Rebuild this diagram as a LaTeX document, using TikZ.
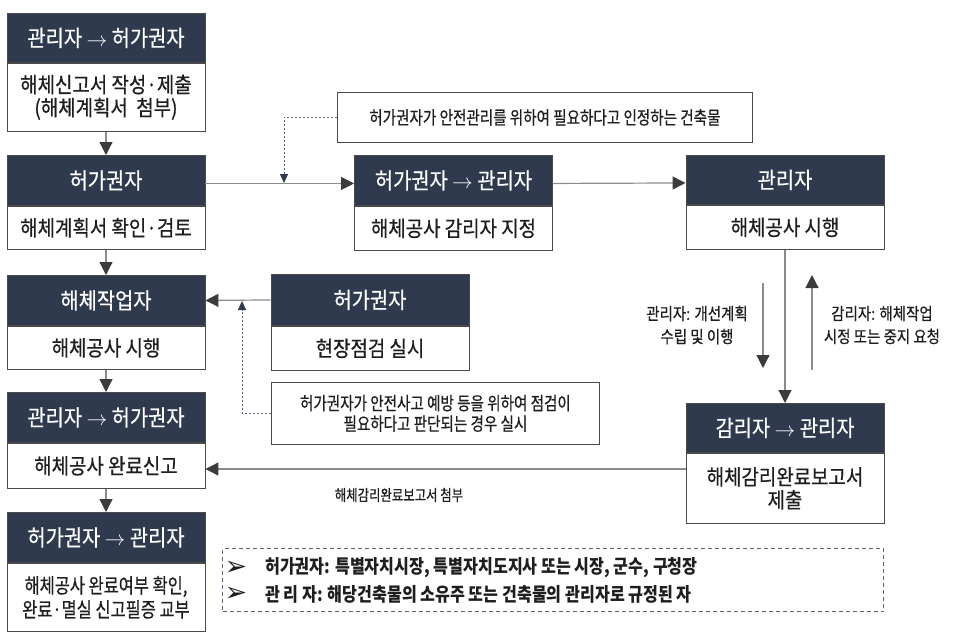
\documentclass[tikz,border=0pt]{standalone}
\usepackage{fontspec}
\setmainfont{Noto Sans CJK KR}
\newfontfamily\krA[FakeStretch=0.88,FakeBold=0.6]{Noto Sans CJK KR}
\newfontfamily\krB[FakeStretch=0.8,FakeBold=0.5]{Noto Sans CJK KR}
\newfontfamily\krC[FakeStretch=0.85,FakeBold=0.5]{Noto Sans CJK KR}
\newfontfamily\krD[FakeStretch=0.85]{Noto Sans CJK KR}
\newfontfamily\dejavu{DejaVu Sans}
\usetikzlibrary{arrows.meta}
\definecolor{navy}{HTML}{2F3A4E}
\definecolor{lgray}{HTML}{8C8C8C}
\definecolor{ahead}{HTML}{3C3C3C}
\definecolor{txt}{HTML}{1E1E1E}
\definecolor{border}{HTML}{4A4A4A}
\definecolor{dotc}{HTML}{5A6578}
\tikzset{
  hdr/.style={draw=border, fill=navy, text=white, minimum width=198pt, inner sep=0pt, anchor=north, line width=0.9pt,
    font=\krA\fontsize{22.5}{24}\selectfont},
  bdy/.style={draw=border, fill=white, text=txt, minimum width=198pt, inner sep=0pt, anchor=north, align=center, line width=0.9pt,
    font=\krA\fontsize{21.5}{23}\selectfont},
  note/.style={draw=border, fill=white, text=txt, inner sep=0pt, align=center, line width=0.9pt,
    font=\krB\fontsize{18.2}{20.5}\selectfont},
  conn/.style={draw=lgray, line width=1.2pt, -{Triangle[length=13pt,width=13pt,color=ahead]}},
  dotline/.style={draw=dotc, line width=1pt, dash pattern=on 2pt off 2pt, -{Triangle[length=9pt,width=8pt,color=navy]}},
  lbl/.style={inner sep=0pt, text=txt, align=center},
}
\begin{document}
\begin{tikzpicture}[x=1pt,y=-1pt]
\useasboundingbox (0,0) rectangle (966,640);
% left column
\node[hdr, minimum height=49pt] (h1) at (106,13) {관리자 $\rightarrow$ 허가권자};
\node[bdy, minimum height=68pt] (b1) at (h1.south) {해체신고서 작성·제출\\(해체계획서\ \ 첨부)};
\node[hdr, minimum height=50pt] (h2) at (106,155) {허가권자};
\node[bdy, minimum height=43pt] (b2) at (h2.south) {해체계획서 확인·검토};
\node[hdr, minimum height=50pt] (h3) at (106,275) {해체작업자};
\node[bdy, minimum height=43pt] (b3) at (h3.south) {해체공사 시행};
\node[hdr, minimum height=50pt] (h4) at (106,392) {관리자 $\rightarrow$ 허가권자};
\node[bdy, minimum height=45pt] (b4) at (h4.south) {해체공사 완료신고};
\node[hdr, minimum height=50pt] (h5) at (106,512) {허가권자 $\rightarrow$ 관리자};
\node[bdy, minimum height=68pt, font=\krB\fontsize{20.5}{24}\selectfont] (b5) at (h5.south) {해체공사 완료여부 확인,\\완료·멸실 신고필증 교부};
% middle
\node[hdr, minimum height=50pt] (hM) at (453.5,155) {허가권자 $\rightarrow$ 관리자};
\node[bdy, minimum height=44pt] (bM) at (hM.south) {해체공사 감리자 지정};
\node[hdr, minimum height=51pt] (hS) at (370,274) {허가권자};
\node[bdy, minimum height=44pt] (bS) at (hS.south) {현장점검 실시};
% right
\node[hdr, minimum height=49pt] (hR) at (785,155) {관리자};
\node[bdy, minimum height=44pt] (bR) at (hR.south) {해체공사 시행};
\node[hdr, minimum height=49pt] (hG) at (785,403) {감리자 $\rightarrow$ 관리자};
\node[bdy, minimum height=70pt] (bG) at (hG.south) {해체감리완료보고서\\제출};
% notes
\node[note, minimum width=415pt, minimum height=50pt, anchor=north west] (n1) at (337,92) {허가권자가 안전관리를 위하여 필요하다고 인정하는 건축물};
\node[note, minimum width=328pt, minimum height=62pt, anchor=north west] (n2) at (271,382) {허가권자가 안전사고 예방 등을 위하여 점검이\\필요하다고 판단되는 경우 실시};
% connectors
\draw[conn] (b1) -- (h2);
\draw[conn] (b2) -- (h3);
\draw[conn] (b3) -- (h4);
\draw[conn] (b4) -- (h5);
\draw[conn] ([yshift=-3pt]h2.east) -- ([yshift=-3pt]hM.west);
\draw[conn] ([yshift=-3pt]hM.east) -- ([yshift=-3pt]hR.west);
\draw[conn] (bR) -- (hG);
\draw[conn] (hS.west) -- (h3.east);
\coordinate (ret) at (0,469);
\draw[conn] (bG.west |- ret) -- (b4.east |- ret);
\coordinate (a1s) at (763,283);
\coordinate (a1e) at (763,368);
\coordinate (a2s) at (812,370);
\coordinate (a2e) at (812,275);
\draw[conn] (a1s) -- (a1e);
\draw[conn] (a2s) -- (a2e);
\coordinate (d1) at (284,183);
\coordinate (d2) at (242,301);
\draw[dotline] (n1.west) -| (d1);
\draw[dotline] (n2.west) -| (d2);
% labels
\node[lbl, font=\krC\fontsize{17}{23}\selectfont] (la) at (697,325) {관리자: 개선계획\\수립 및 이행};
\node[lbl, font=\krC\fontsize{17}{23}\selectfont] (lb) at (882,325) {감리자: 해체작업\\시정 또는 중지 요청};
\node[lbl, font=\krB\fontsize{15.5}{18}\selectfont] (lc) at (399,495) {해체감리완료보고서 첨부};
% legend
\node[draw=dotc, line width=1pt, dash pattern=on 4pt off 3pt, minimum width=661pt, minimum height=63pt, inner sep=0pt, anchor=north west] (leg) at (222,548) {};
\node[lbl, anchor=center, font=\dejavu\fontsize{27}{28}\selectfont] (g1) at (236,568) {➢};
\node[lbl, anchor=center, font=\dejavu\fontsize{27}{28}\selectfont] (g2) at (236,594) {➢};
\node[lbl, anchor=west, font=\krD\bfseries\fontsize{19}{22}\selectfont] (t1) at (265,568) {허가권자: 특별자치시장, 특별자치도지사 또는 시장, 군수, 구청장};
\node[lbl, anchor=west, font=\krD\bfseries\fontsize{19}{22}\selectfont] (t2) at (265,594) {관 리 자: 해당건축물의 소유주 또는 건축물의 관리자로 규정된 자};
\end{tikzpicture}
\end{document}
